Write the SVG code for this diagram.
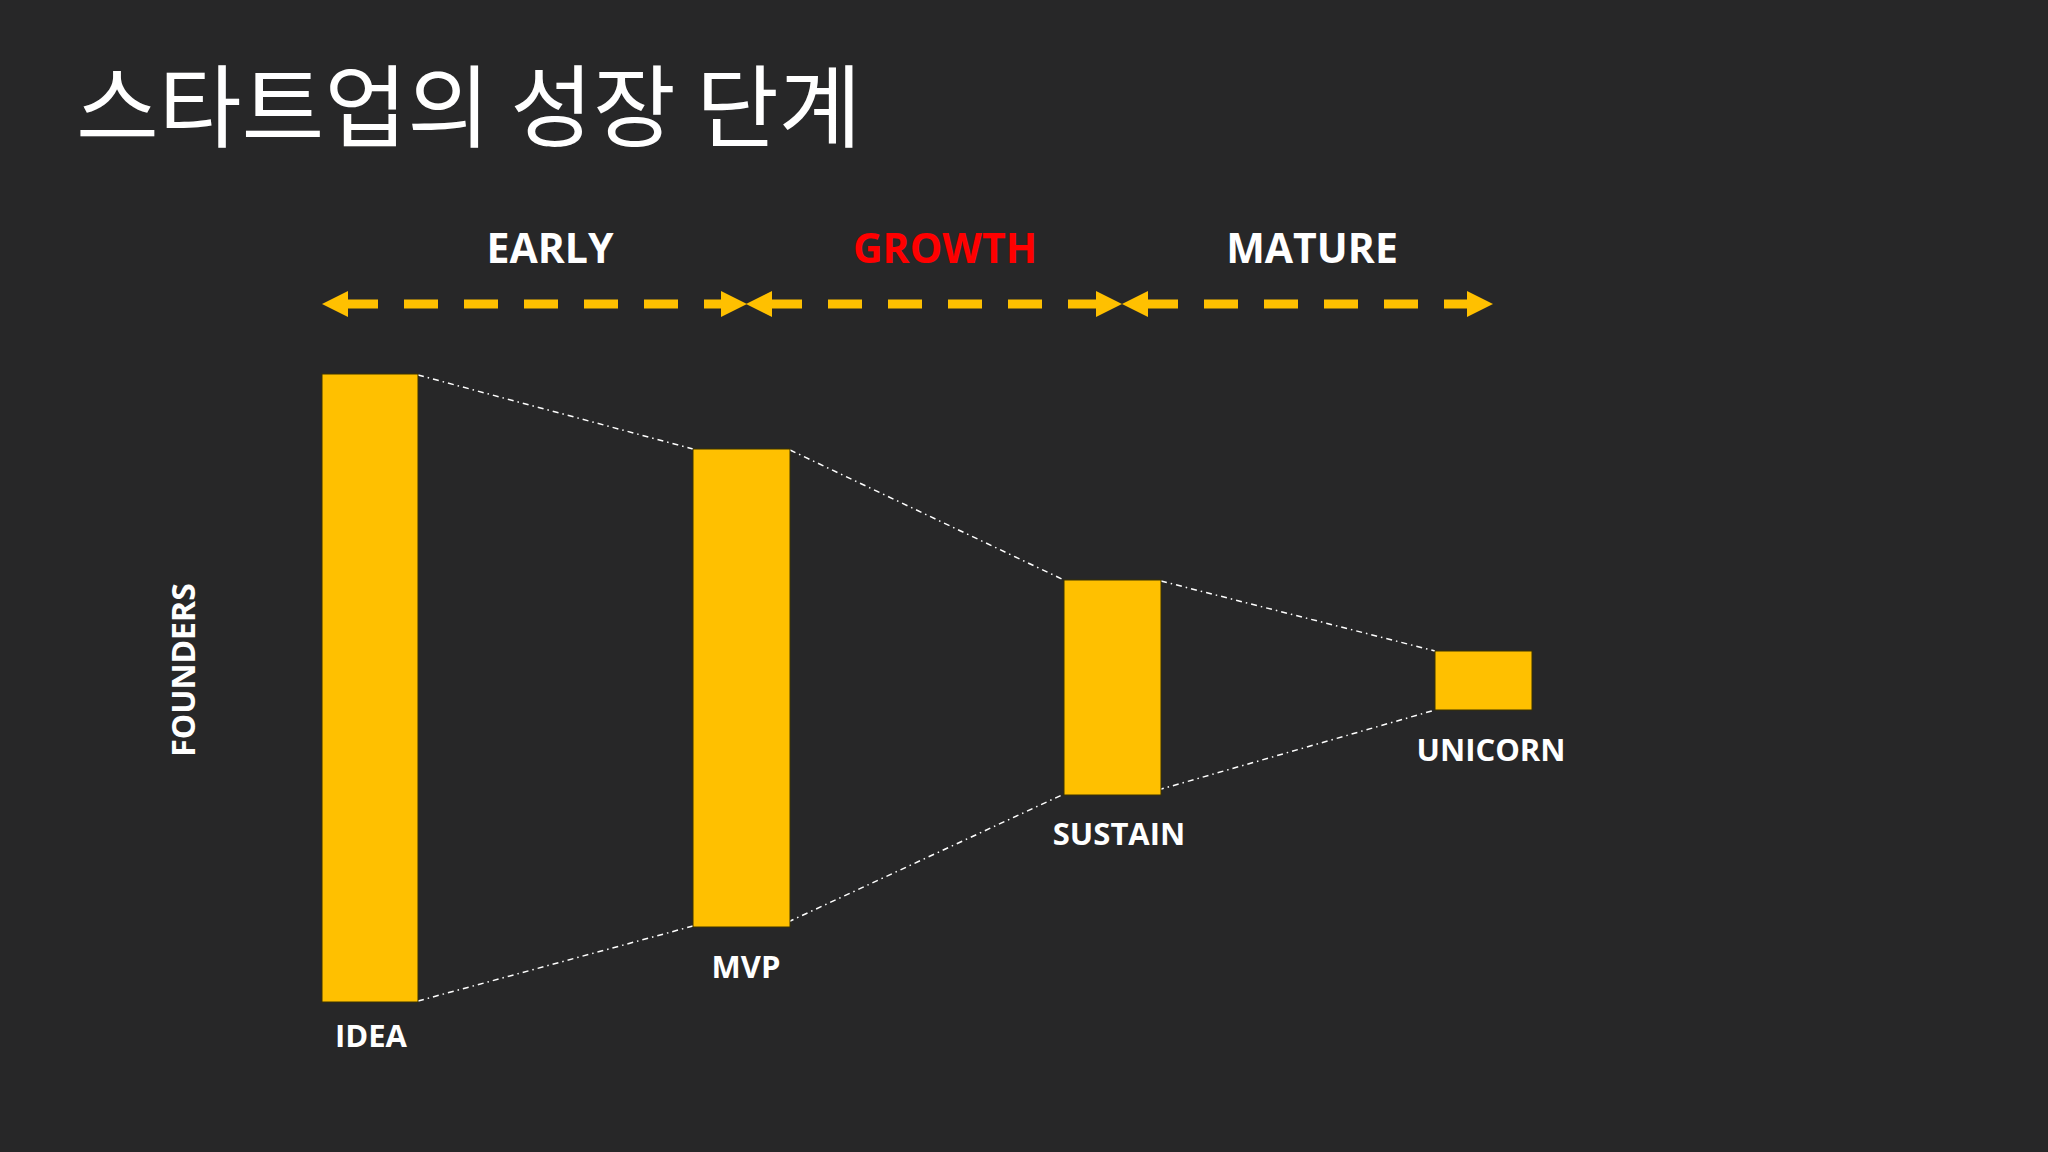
<svg xmlns="http://www.w3.org/2000/svg" width="2048" height="1152" viewBox="0 0 2048 1152">
  <style>
    .bar { fill: #FFC000; stroke: #3a3200; stroke-width: 1; }
    .lbl { font-family: "Open Sans", "Noto Sans", "Liberation Sans", sans-serif; font-weight: 700; fill: #FFFFFF; text-anchor: middle; }
    .phase { font-size: 41px; }
    .node { font-size: 31px; }
    .guide { fill: none; stroke: #FFFFFF; stroke-width: 1.5; stroke-dasharray: 6 4 1.5 4; }
    .span { fill: none; stroke: #FFC000; stroke-width: 9; stroke-dasharray: 34 26; stroke-dashoffset: 4; }
  </style>
  <defs>
    <marker id="head" markerUnits="userSpaceOnUse" markerWidth="26" markerHeight="26" viewBox="0 0 26 26" refX="0" refY="13" orient="auto-start-reverse">
      <path d="M0,0 L26,13 L0,26 Z" fill="#FFC000"/>
    </marker>
  </defs>
  <rect x="0" y="0" width="2048" height="1152" fill="#272728"/>

  <text id="title" x="76" y="140" font-family="'Noto Sans CJK KR', 'Noto Sans CJK SC', sans-serif" font-size="90" font-weight="400" fill="#FFFFFF">스타트업의 성장 단계</text>

  <g id="phases">
    <text class="lbl phase" x="550" y="263">EARLY</text>
    <text class="lbl phase" x="945" y="263" style="fill:#FF0000">GROWTH</text>
    <text class="lbl phase" x="1312" y="263">MATURE</text>
  </g>

  <g id="founders">
    <text class="lbl" font-size="32" transform="translate(195,670) rotate(-90)" x="0" y="0">FOUNDERS</text>
  </g>

  <g id="connectors">
    <line class="span" x1="348" y1="304" x2="721" y2="304" marker-start="url(#head)" marker-end="url(#head)"/>
    <line class="span" x1="772" y1="304" x2="1096" y2="304" marker-start="url(#head)" marker-end="url(#head)"/>
    <line class="span" x1="1148" y1="304" x2="1467" y2="304" marker-start="url(#head)" marker-end="url(#head)"/>
    <line class="guide" x1="418" y1="375" x2="693" y2="449"/>
    <line class="guide" x1="418" y1="1001" x2="693" y2="926"/>
    <line class="guide" x1="790" y1="450" x2="1064" y2="580"/>
    <line class="guide" x1="788" y1="922" x2="1064" y2="794"/>
    <line class="guide" x1="1161" y1="581" x2="1435" y2="651"/>
    <line class="guide" x1="1158" y1="790" x2="1435" y2="710"/>
  </g>

  <g id="idea">
    <rect class="bar" x="322" y="374" width="96" height="628"/>
    <text class="lbl node" x="371" y="1047">IDEA</text>
  </g>
  <g id="mvp">
    <rect class="bar" x="693" y="449" width="97" height="478"/>
    <text class="lbl node" x="746" y="978">MVP</text>
  </g>
  <g id="sustain">
    <rect class="bar" x="1064" y="580" width="97" height="215"/>
    <text class="lbl node" x="1119" y="845">SUSTAIN</text>
  </g>
  <g id="unicorn">
    <rect class="bar" x="1435" y="651" width="97" height="59"/>
    <text class="lbl node" x="1491" y="761">UNICORN</text>
  </g>
</svg>
